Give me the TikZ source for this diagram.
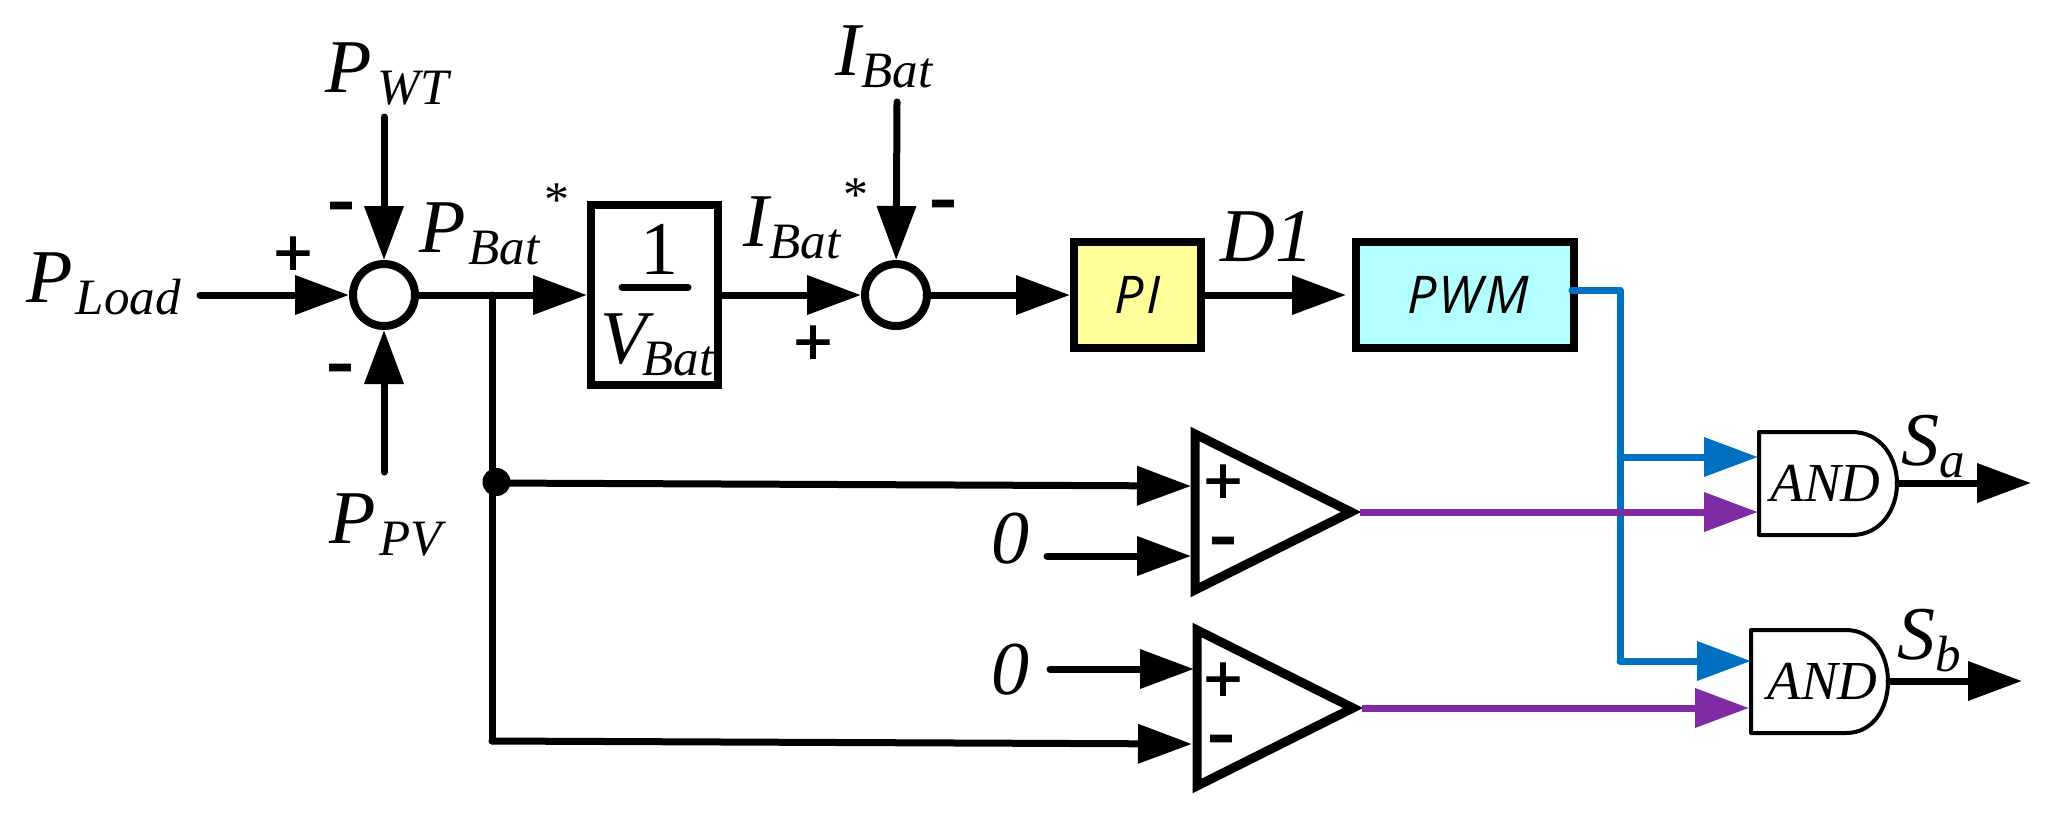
\documentclass[tikz,border=0pt]{standalone}
\usepackage{fontspec}
\setmainfont{Liberation Serif}
\newfontfamily\signfont[FakeBold=1.5]{Liberation Sans}
\newfontfamily\blockfont[LetterSpace=4]{Open Sans}
\usetikzlibrary{arrows.meta}

\definecolor{pwmblue}{HTML}{0070C0}
\definecolor{cmppurple}{HTML}{7F2BA3}
\definecolor{pifill}{HTML}{FFFF99}
\definecolor{pwmfill}{HTML}{B3FFFF}

\newcommand{\biglab}{\fontsize{38pt}{38pt}\selectfont\itshape}
\newcommand{\sublab}[3][1.5pt]{#2\kern#1\raisebox{-6pt}{\fontsize{25.5pt}{25.5pt}\selectfont #3}}

\tikzset{
  sigline/.style={line width=3.5pt, line cap=round, -{Triangle[length=27pt, width=19pt]}},
  purpleline/.style={sigline, line cap=butt, draw=cmppurple, -{Triangle[length=27pt, width=19pt, fill=cmppurple]}},
  blueline/.style={sigline, draw=pwmblue, -{Triangle[length=27pt, width=19pt, fill=pwmblue]}},
  sumnode/.style={circle, draw, line width=4pt, fill=white, minimum size=31pt, inner sep=0pt},
  ctrlbox/.style={rectangle, draw, line width=4pt, minimum width=63.5pt, inner sep=0pt, font=\fontsize{26pt}{26pt}\selectfont\blockfont\itshape},
  cmpline/.style={line width=4.5pt, line join=miter},
  lab/.style={inner sep=0pt, anchor=base west, font=\biglab},
  star/.style={inner sep=0pt, font=\fontsize{25pt}{25pt}\selectfont},
  plussign/.style={inner sep=0pt, font=\fontsize{33pt}{33pt}\selectfont\signfont},
  minussign/.style={inner sep=0pt, font=\fontsize{42pt}{42pt}\selectfont\signfont},
  gatetext/.style={inner sep=0pt, anchor=base west, font=\fontsize{27.5pt}{27.5pt}\selectfont\itshape},
  gateline/.style={line width=2pt, line join=round},
}

\begin{document}
\begin{tikzpicture}[x=0.5pt, y=-0.5pt]
\path [use as bounding box] (0,0) rectangle (2054,821);

% Sum points and blocks
\node [sumnode] (sumA) at (384,295) {};
\node [sumnode] (sumB) at (896,295) {};
\node [ctrlbox, minimum height=90pt] (invBox) at (654.5,295) {};
\node [ctrlbox, minimum height=53pt, fill=pifill] (piBox) at (1137.5,295) {PI};
\node [ctrlbox, minimum width=109pt, minimum height=53pt, fill=pwmfill] (pwmBox) at (1465,295) {\kern3pt PWM};

% Comparators
\draw [cmpline] (1195,434) -- (1351,512) -- (1195,590) -- cycle;
\draw [cmpline] (1197,630) -- (1353,708) -- (1197,786) -- cycle;

% AND gates
\draw [gateline] (1759,432) -- (1852,432) .. controls (1881,432) and (1897,458) .. (1897,483.5) .. controls (1897,509) and (1881,535) .. (1852,535) -- (1759,535) -- cycle;
\draw [gateline] (1751,630) -- (1846,630) .. controls (1874,630) and (1888,656) .. (1888,681.5) .. controls (1888,707) and (1874,733) .. (1846,733) -- (1751,733) -- cycle;
\node [gatetext] (andA) at (1770,501) {AND};
\node [gatetext] (andB) at (1767,699) {AND};

% Free ends
\coordinate (loadEnd) at (200,295);
\coordinate (wtEnd) at (384,117);
\coordinate (pvEnd) at (384,472);
\coordinate (batEnd) at (897,102);
\coordinate (branch) at (492,295);
\coordinate (junction) at (492,483);
\coordinate (corner) at (492,741);
\coordinate (cmpAplus) at (1191,486);
\coordinate (cmpAminus) at (1191,556);
\coordinate (cmpBplus) at (1194,669);
\coordinate (cmpBminus) at (1192,744);
\coordinate (zeroAend) at (1047,556);
\coordinate (zeroBend) at (1050,669);
\coordinate (cmpAout) at (1360,512);
\coordinate (cmpBout) at (1362,708);
\coordinate (andApur) at (1758,512);
\coordinate (andAblu) at (1758,457);
\coordinate (andBpur) at (1749,708);
\coordinate (andBblu) at (1751,661);
\coordinate (andAout) at (1898,483);
\coordinate (andBend) at (1889,681);
\coordinate (sAend) at (2031,483);
\coordinate (sBend) at (2022,681);
\coordinate (stubA) at (1572,290);
\coordinate (stubB) at (1620,290);
\coordinate (tapA) at (1620,457);
\coordinate (tapB) at (1620,661);
\coordinate (dOne) at (1346,295);

% Signals
\draw [sigline] (loadEnd) -- (sumA);
\draw [sigline] (wtEnd) -- (sumA);
\draw [sigline] (pvEnd) -- (sumA);
\draw [sigline] (batEnd) -- (sumB);
\draw [sigline] (sumA) -- (invBox);
\draw [sigline] (invBox) -- (sumB);
\draw [sigline] (sumB) -- (piBox);
\draw [sigline] (piBox) -- (dOne);
\draw [line width=3.5pt, line cap=round] (branch) -- (corner);
\draw [sigline] (junction) -- (cmpAplus);
\draw [sigline] (corner) -- (cmpBminus);
\draw [sigline] (zeroAend) -- (cmpAminus);
\draw [sigline] (zeroBend) -- (cmpBplus);
\fill (496.5,482) circle [radius=7pt];

% PWM and comparator outputs
\draw [line width=3.5pt, draw=pwmblue, line cap=round, line join=round] (stubA) -- (stubB) -- (tapB);
\draw [blueline] (tapA) -- (andAblu);
\draw [blueline] (tapB) -- (andBblu);
\draw [purpleline] (cmpAout) -- (andApur);
\draw [purpleline] (cmpBout) -- (andBpur);
\draw [sigline] (andAout) -- (sAend);
\draw [sigline] (andBend) -- (sBend);

% Labels
\node [lab] (pLoad) at (26,302) {\sublab{P}{Load}};
\node [lab] (pWT) at (325,92) {\sublab[3pt]{P}{WT}};
\node [lab] (pPV) at (329,543) {\sublab[2pt]{P}{PV}};
\node [lab] (pBat) at (419,252) {\sublab{P}{Bat}};
\node [lab] (iBatIn) at (835,75) {\sublab[0.5pt]{I}{Bat}};
\node [lab] (iBat) at (743,246) {\sublab[0.5pt]{I}{Bat}};
\node [lab] (vBat) at (600,363) {\sublab[-2pt]{V}{Bat}};
\node [lab, font=\biglab\upshape] (oneNum) at (640,274) {1};
\node [lab] (dLab) at (1220,261) {D1};
\node [lab] (zeroA) at (991,563) {0};
\node [lab] (zeroB) at (991,694) {0};
\node [lab] (sA) at (1901,465) {\sublab[0pt]{S}{a}};
\node [lab] (sB) at (1897,659) {\sublab[0pt]{S}{b}};
\draw [line width=3.5pt, line cap=round] (622,287) -- (688,287);
\node [star] (starP) at (557,200) {*};
\node [star] (starI) at (856,195) {*};

% Signs
\node [plussign] (plusLoad) at (293,256) {+};
\node [plussign] (plusBat) at (813,345) {+};
\node [plussign] (plusA) at (1223,484) {+};
\node [plussign] (plusB) at (1223,682) {+};
\node [minussign] (minWT) at (341,215) {-};
\node [minussign] (minPV) at (340,377) {-};
\node [minussign] (minBat) at (943,213) {-};
\node [minussign] (minA) at (1223,550) {-};
\node [minussign] (minB) at (1221,748) {-};

\end{tikzpicture}
\end{document}
